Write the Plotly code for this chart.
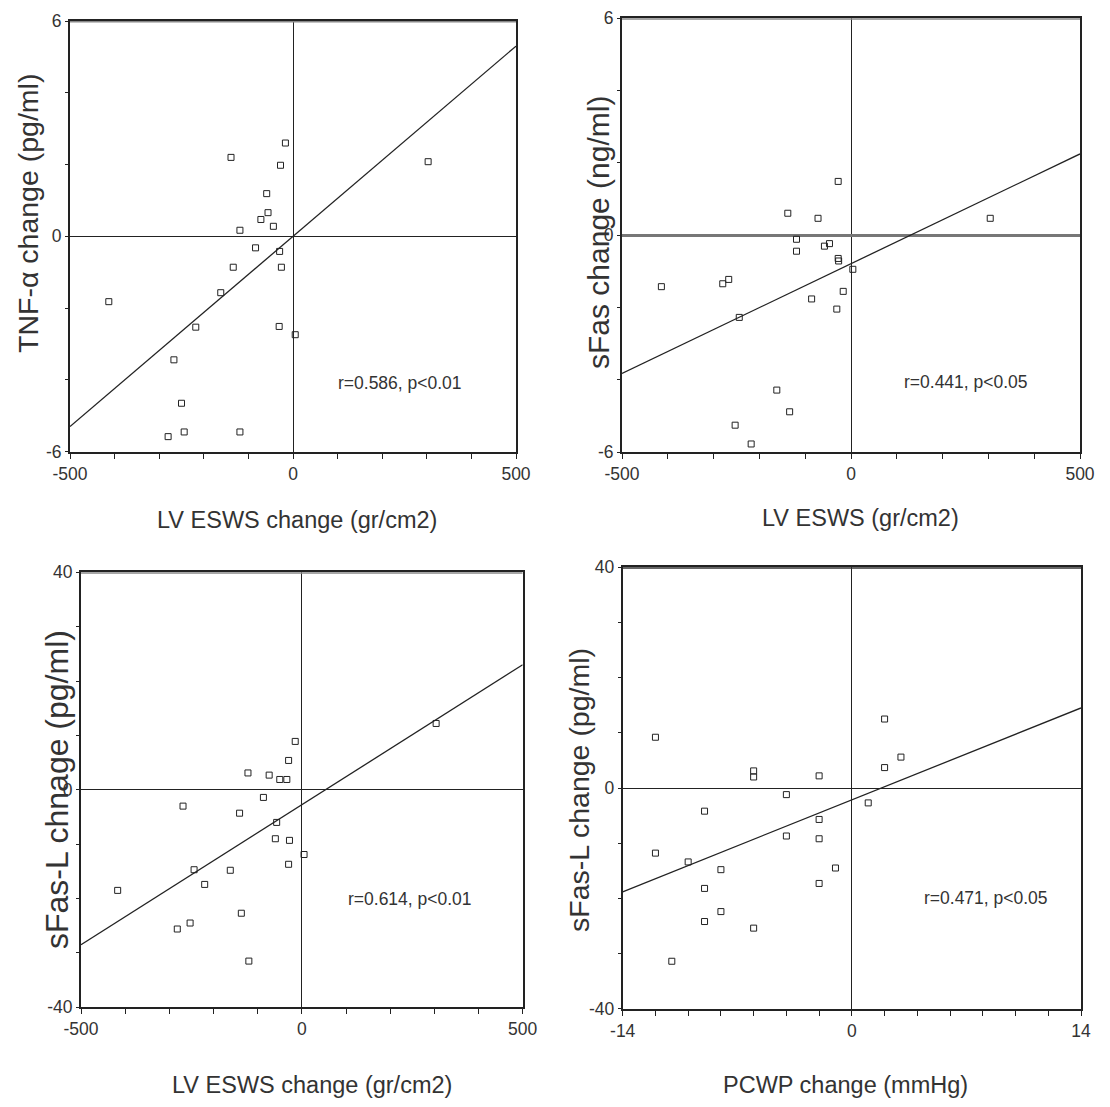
import plotly.graph_objects as go

# ---------------- data ----------------
# Panel A: TNF-alpha change vs LV ESWS change
a_x = [-17, -139, -28, 303, -59, -56, -72, -44, -119, -84, -30, -26, -134, -162,
       -413, -218, -31, 5, -267, -250, -244, -280, -119]
a_y = [2.6, 2.2, 1.98, 2.08, 1.19, 0.66, 0.47, 0.28, 0.17, -0.32, -0.42, -0.86, -0.86,
       -1.57, -1.82, -2.53, -2.51, -2.74, -3.44, -4.65, -5.45, -5.58, -5.45]
a_fit = (0.0106, 0.0)          # slope, intercept

# Panel B: sFas change vs LV ESWS
b_x = [-28, -138, -72, 304, -119, -119, -58, -47, -28, -27, 4, -414, -280, -267,
       -17, -86, -31, -244, -162, -134, -253, -218]
b_y = [1.49, 0.61, 0.47, 0.47, -0.11, -0.44, -0.30, -0.23, -0.64, -0.71, -0.94, -1.42,
       -1.34, -1.22, -1.55, -1.76, -2.04, -2.27, -4.28, -4.88, -5.25, -5.77]
b_fit = (0.00607, -0.785)

# Panel C: sFas-L change vs LV ESWS change
c_x = [304, -15, -30, -122, -74, -50, -34, -87, -269, -141, -57, -60, -28, 5, -30,
       -244, -162, -220, -417, -137, -253, -282, -120]
c_y = [12.2, 8.9, 5.4, 3.1, 2.7, 1.9, 1.9, -1.4, -3.0, -4.3, -6.0, -9.0, -9.3, -11.9,
       -13.7, -14.7, -14.8, -17.4, -18.5, -22.7, -24.5, -25.6, -31.5]
c_fit = (0.0515, -2.75)

# Panel D: sFas-L change vs PCWP change
d_x = [-12, 2, 3, 2, -6, -6, -2, -4, 1, -9, -2, -4, -2, -12, -10, -1, -8, -9, -2,
       -8, -9, -6, -11]
d_y = [9.2, 12.5, 5.6, 3.7, 3.1, 2.0, 2.2, -1.2, -2.7, -4.2, -5.7, -8.7, -9.2, -11.8,
       -13.4, -14.5, -14.8, -18.2, -17.3, -22.4, -24.2, -25.4, -31.4]
d_fit = (1.19, -2.15)

x_titles = ["LV ESWS change (gr/cm2)", "LV ESWS (gr/cm2)",
            "LV ESWS change (gr/cm2)", "PCWP change (mmHg)"]
y_titles = ["TNF-\u03b1 change (pg/ml)", "sFas change (ng/ml)",
            "sFas-L chnage (pg/ml)", "sFas-L change (pg/ml)"]
stats = ["r=0.586, p<0.01", "r=0.441, p<0.05", "r=0.614, p<0.01", "r=0.471, p<0.05"]
x_ranges = [(-500, 500), (-500, 500), (-500, 500), (-14, 14)]
y_ranges = [(-6, 6), (-6, 6), (-40, 40), (-40, 40)]
x_minor = [100, 100, 100, 2]
y_minor = [2, 2, 10, 10]
stat_pos = [(239, -4.08), (252, -4.05), (245, -20.0), (8.2, -20.0)]

# ---------------- layout geometry (pixels) ----------------
W, H = 1110, 1107
boxes = [(70, 516, 21, 451.7), (622, 1080, 18.3, 452.3),
         (81, 522.7, 572.3, 1007.3), (622.7, 1081, 567.3, 1008.7)]
ytitle_pos = [(28, 214, 28.5), (598, 233, 30), (57, 790, 32), (579, 790, 28.5)]
xtitle_pos = [(297, 520), (860, 518), (312, 1085), (845, 1085)]

SANS = "Liberation Sans, Arial, sans-serif"
INK = "#222222"

fig = go.Figure()
datasets = [(a_x, a_y, a_fit), (b_x, b_y, b_fit), (c_x, c_y, c_fit), (d_x, d_y, d_fit)]

def fmt(v):
    return str(int(v)) if float(v).is_integer() else str(v)

annotations = []
shapes = []
for i, (xs, ys, fit) in enumerate(datasets):
    n = "" if i == 0 else str(i + 1)
    xa, ya = "x" + n, "y" + n
    fig.add_trace(go.Scatter(x=xs, y=ys, mode="markers", xaxis=xa, yaxis=ya,
                             marker=dict(symbol="square-open", size=6,
                                         color=INK, line=dict(width=1, color=INK)),
                             showlegend=False, cliponaxis=False))
    x0, x1 = x_ranges[i]
    fx = [x0, x1]
    fy = [fit[0] * v + fit[1] for v in fx]
    fig.add_trace(go.Scatter(x=fx, y=fy, mode="lines", xaxis=xa, yaxis=ya,
                             line=dict(color=INK, width=1.3), showlegend=False))

    l, r, t, b = boxes[i]
    y0, y1 = y_ranges[i]
    xstep, ystep = x_minor[i], y_minor[i]
    xt = list(range(int(x0), int(x1) + 1, xstep))
    yt = list(range(int(y0), int(y1) + 1, ystep))
    xlab = [fmt(v) if v in (x0, 0, x1) else "" for v in xt]
    ylab = [fmt(v) if v in (y0, 0, y1) else "" for v in yt]

    fig.layout["xaxis" + n] = dict(
        domain=[l / W, r / W], range=[x0, x1], anchor=ya, automargin=False,
        tickmode="array", tickvals=xt, ticktext=xlab,
        ticks="outside", ticklen=5, tickwidth=1, tickcolor=INK,
        showline=True, linecolor=INK, linewidth=2, mirror=True,
        zeroline=True, zerolinecolor=INK, zerolinewidth=1.2,
        showgrid=False, tickfont=dict(family=SANS, size=17.5, color="#333"))
    fig.layout["yaxis" + n] = dict(
        domain=[1 - b / H, 1 - t / H], range=[y0, y1], anchor=xa, automargin=False,
        tickmode="array", tickvals=yt, ticktext=ylab,
        ticks="outside", ticklen=3, tickwidth=1, tickcolor=INK,
        showline=True, linecolor=INK, linewidth=2, mirror=True,
        zeroline=True,
        zerolinecolor="#777777" if i == 1 else INK,
        zerolinewidth=3 if i == 1 else 1.2,
        showgrid=False, tickfont=dict(family=SANS, size=17.5, color="#333"))

    # thick grey top frame
    shapes.append(dict(type="line", xref=xa, yref=ya, x0=x0, x1=x1, y0=y1, y1=y1,
                       line=dict(color="#888888" if i < 3 else "#333333", width=3)))

    sx, sy = stat_pos[i]
    annotations.append(dict(x=sx, y=sy, xref=xa, yref=ya, text=stats[i],
                            xanchor="center", yanchor="middle",
                            showarrow=False, font=dict(family=SANS, size=17.5, color="#333")))
    tx, ty, ts = ytitle_pos[i]
    annotations.append(dict(x=tx / W, y=1 - ty / H, xref="paper", yref="paper",
                            text=y_titles[i], textangle=-90, showarrow=False,
                            xanchor="center", yanchor="middle",
                            font=dict(family=SANS, size=ts, color="#333")))
    qx, qy = xtitle_pos[i]
    annotations.append(dict(x=qx / W, y=1 - qy / H, xref="paper", yref="paper",
                            text=x_titles[i], showarrow=False,
                            xanchor="center", yanchor="middle",
                            font=dict(family=SANS, size=23.5, color="#333")))

fig.update_layout(width=W, height=H, margin=dict(l=0, r=0, t=0, b=0),
                  paper_bgcolor="white", plot_bgcolor="white",
                  annotations=annotations, shapes=shapes)

fig.write_html("out.html", config={"displayModeBar": False},
               post_script="document.body.style.margin='0px';")
